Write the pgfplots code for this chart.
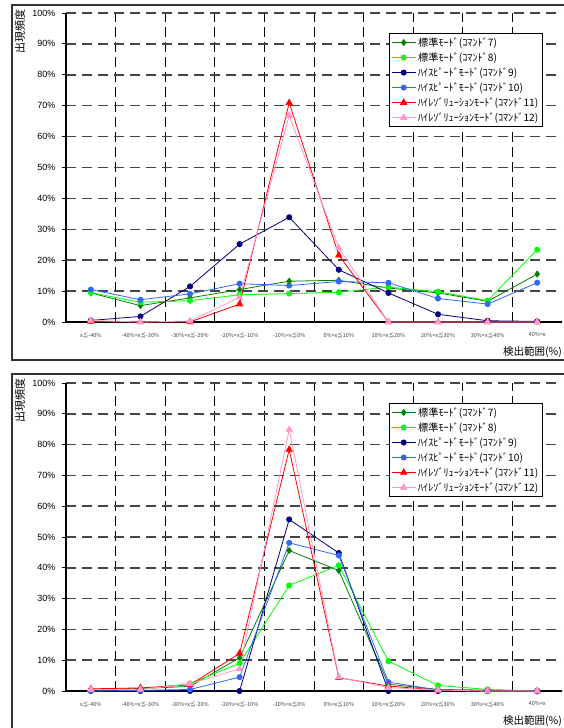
\documentclass[border=0pt]{standalone}
\usepackage{pgfplots}
\pgfplotsset{compat=1.18}
\usepackage{pgfplotstable}
\usepackage{fontspec}
\setmainfont{Liberation Sans}
\newfontfamily\jp{Noto Sans CJK JP}
\definecolor{cDG}{RGB}{0,128,0}
\definecolor{cLG}{RGB}{0,255,0}
\definecolor{cNV}{RGB}{0,0,128}
\definecolor{cBL}{RGB}{51,102,255}
\definecolor{cRD}{RGB}{255,0,0}
\definecolor{cPK}{RGB}{255,153,204}
\definecolor{gridgray}{RGB}{70,70,70}

\pgfplotstableread{
x c7 c8 c9 c10 c11 c12
0 9.4 9.5 0.5 10.5 0.2 0.5
1 5.3 6.4 1.8 7.2 0 0
2 7.8 6.9 11.5 9.1 0 0.3
3 10.5 8.8 25.2 12.4 5.8 8.0
4 13.2 9.2 33.9 11.8 70.9 66.8
5 13.5 9.6 16.9 13.1 21.6 24.0
6 11.0 11.3 9.4 12.7 0 0
7 9.4 9.8 2.5 7.6 0 0
8 6.7 6.9 0.4 5.8 0 0
9 15.5 23.4 0.2 12.7 0 0
}\dataA

\pgfplotstableread{
x c7 c8 c9 c10 c11 c12
0 0.5 0.3 0 0 0.7 0.5
1 0.8 0.5 0 0.2 1.0 0.5
2 1.5 2.4 0 0.5 2.0 2.3
3 10.8 9.0 0 4.5 12.2 7.2
4 45.6 34.3 55.7 48.1 78.4 84.9
5 39.1 40.8 44.8 44.0 4.3 4.5
6 2.2 9.7 0 2.9 1.6 1.1
7 0.5 1.8 0 0.3 0.3 0.3
8 0.3 0.5 0 0 0 0
9 0 0 0 0 0 0
}\dataB

\pgfplotsset{
  mychart/.style={
    scale only axis,
    width=496pt,
    xmin=-0.5, xmax=9.5,
    ymin=0, ymax=100,
    axis x line*=bottom,
    axis y line*=left,
    axis line style={-, black, line width=1.1pt},
    xtick={0,...,9},
    xticklabels={x≦-40\%, -40\%<x≦-30\%, -30\%<x≦-20\%, -20\%<x≦-10\%, -10\%<x≦0\%, 0\%<x≦10\%, 10\%<x≦20\%, 20\%<x≦30\%, 30\%<x≦40\%, 40\%<x},
    xticklabel style={font=\jp\fontsize{5.5}{6}\selectfont, text=black!75, yshift=-3pt},
    x tick style={draw=none},
    minor xtick={0.5,1.5,...,8.5},
    xminorgrids=true,
    minor x tick style={draw=none},
    minor grid style={black, line width=0.8pt, dash pattern=on 10pt off 5pt},
    ytick={0,10,...,100},
    yticklabels={0\%,10\%,20\%,30\%,40\%,50\%,60\%,70\%,80\%,90\%,100\%},
    yticklabel style={font=\fontsize{9}{10}\selectfont, xshift=-3pt},
    y tick style={black, line width=0.8pt},
    tick align=outside,
    major tick length=4pt,
    ymajorgrids=true,
    major grid style={gridgray, line width=1.5pt, dash pattern=on 10pt off 6pt},
    legend style={at={(0.651,0.935)}, anchor=north west, draw=black, line width=0.8pt,
      font=\jp\fontsize{10.2}{10.5}\selectfont, row sep=0.8pt, inner sep=2pt,
      cells={anchor=west}},
    legend cell align=left,
    legend image code/.code={\draw[mark repeat=2,mark phase=2] plot coordinates {(0pt,0pt) (12pt,0pt) (24pt,0pt)};},
    every axis plot/.append style={line width=0.8pt},
    clip=false,
  },
  s7/.style={cDG, mark=diamond*, mark size=3pt, mark options={fill=cDG}},
  s8/.style={cLG, mark=*, mark size=2.6pt, mark options={fill=cLG}},
  s9/.style={cNV, mark=*, mark size=2.6pt, mark options={fill=cNV}},
  s10/.style={cBL, mark=*, mark size=2.6pt, mark options={fill=cBL}},
  s11/.style={cRD, mark=triangle*, mark size=3.6pt, mark options={fill=cRD}},
  s12/.style={cPK, mark=triangle*, mark size=3.6pt, mark options={fill=cPK}},
}

\begin{document}
\begin{tikzpicture}[x=1pt,y=1pt]
\path[use as bounding box] (0pt,0pt) rectangle (563pt,728pt);
% frames
\draw[line width=1.3pt, black!80] (12pt,368pt) rectangle (570pt,723pt);
\draw[line width=1.3pt, black!80] (12pt,-10pt) rectangle (570pt,354pt);

\begin{axis}[mychart, at={(66pt,406pt)}, anchor=south west, height=309pt]
\addplot[s7] table[x=x,y=c7] {\dataA};
\addplot[s8] table[x=x,y=c8] {\dataA};
\addplot[s9] table[x=x,y=c9] {\dataA};
\addplot[s10] table[x=x,y=c10] {\dataA};
\addplot[s11] table[x=x,y=c11] {\dataA};
\addplot[s12] table[x=x,y=c12] {\dataA};
\legend{標準ﾓｰﾄﾞ(ｺﾏﾝﾄﾞ7), 標準ﾓｰﾄﾞ(ｺﾏﾝﾄﾞ8), ﾊｲｽﾋﾟｰﾄﾞﾓｰﾄﾞ(ｺﾏﾝﾄﾞ9), ﾊｲｽﾋﾟｰﾄﾞﾓｰﾄﾞ(ｺﾏﾝﾄﾞ10), ﾊｲﾚｿﾞﾘｭｰｼｮﾝﾓｰﾄﾞ(ｺﾏﾝﾄﾞ11), ﾊｲﾚｿﾞﾘｭｰｼｮﾝﾓｰﾄﾞ(ｺﾏﾝﾄﾞ12)}
\end{axis}

\begin{axis}[mychart, at={(66pt,37pt)}, anchor=south west, height=308pt]
\addplot[s7] table[x=x,y=c7] {\dataB};
\addplot[s8] table[x=x,y=c8] {\dataB};
\addplot[s9] table[x=x,y=c9] {\dataB};
\addplot[s10] table[x=x,y=c10] {\dataB};
\addplot[s11] table[x=x,y=c11] {\dataB};
\addplot[s12] table[x=x,y=c12] {\dataB};
\legend{標準ﾓｰﾄﾞ(ｺﾏﾝﾄﾞ7), 標準ﾓｰﾄﾞ(ｺﾏﾝﾄﾞ8), ﾊｲｽﾋﾟｰﾄﾞﾓｰﾄﾞ(ｺﾏﾝﾄﾞ9), ﾊｲｽﾋﾟｰﾄﾞﾓｰﾄﾞ(ｺﾏﾝﾄﾞ10), ﾊｲﾚｿﾞﾘｭｰｼｮﾝﾓｰﾄﾞ(ｺﾏﾝﾄﾞ11), ﾊｲﾚｿﾞﾘｭｰｼｮﾝﾓｰﾄﾞ(ｺﾏﾝﾄﾞ12)}
\end{axis}

% axis titles
\node[rotate=90, font=\jp\fontsize{11}{11}\selectfont, inner sep=0pt] at (20pt,696pt) {出現頻度};
\node[anchor=east, font=\jp\fontsize{10.5}{11}\selectfont, inner sep=0pt] at (562pt,376pt) {検出範囲(\%)};
\node[rotate=90, font=\jp\fontsize{11}{11}\selectfont, inner sep=0pt] at (20pt,327pt) {出現頻度};
\node[anchor=east, font=\jp\fontsize{10.5}{11}\selectfont, inner sep=0pt] at (562pt,7pt) {検出範囲(\%)};
\end{tikzpicture}
\end{document}
